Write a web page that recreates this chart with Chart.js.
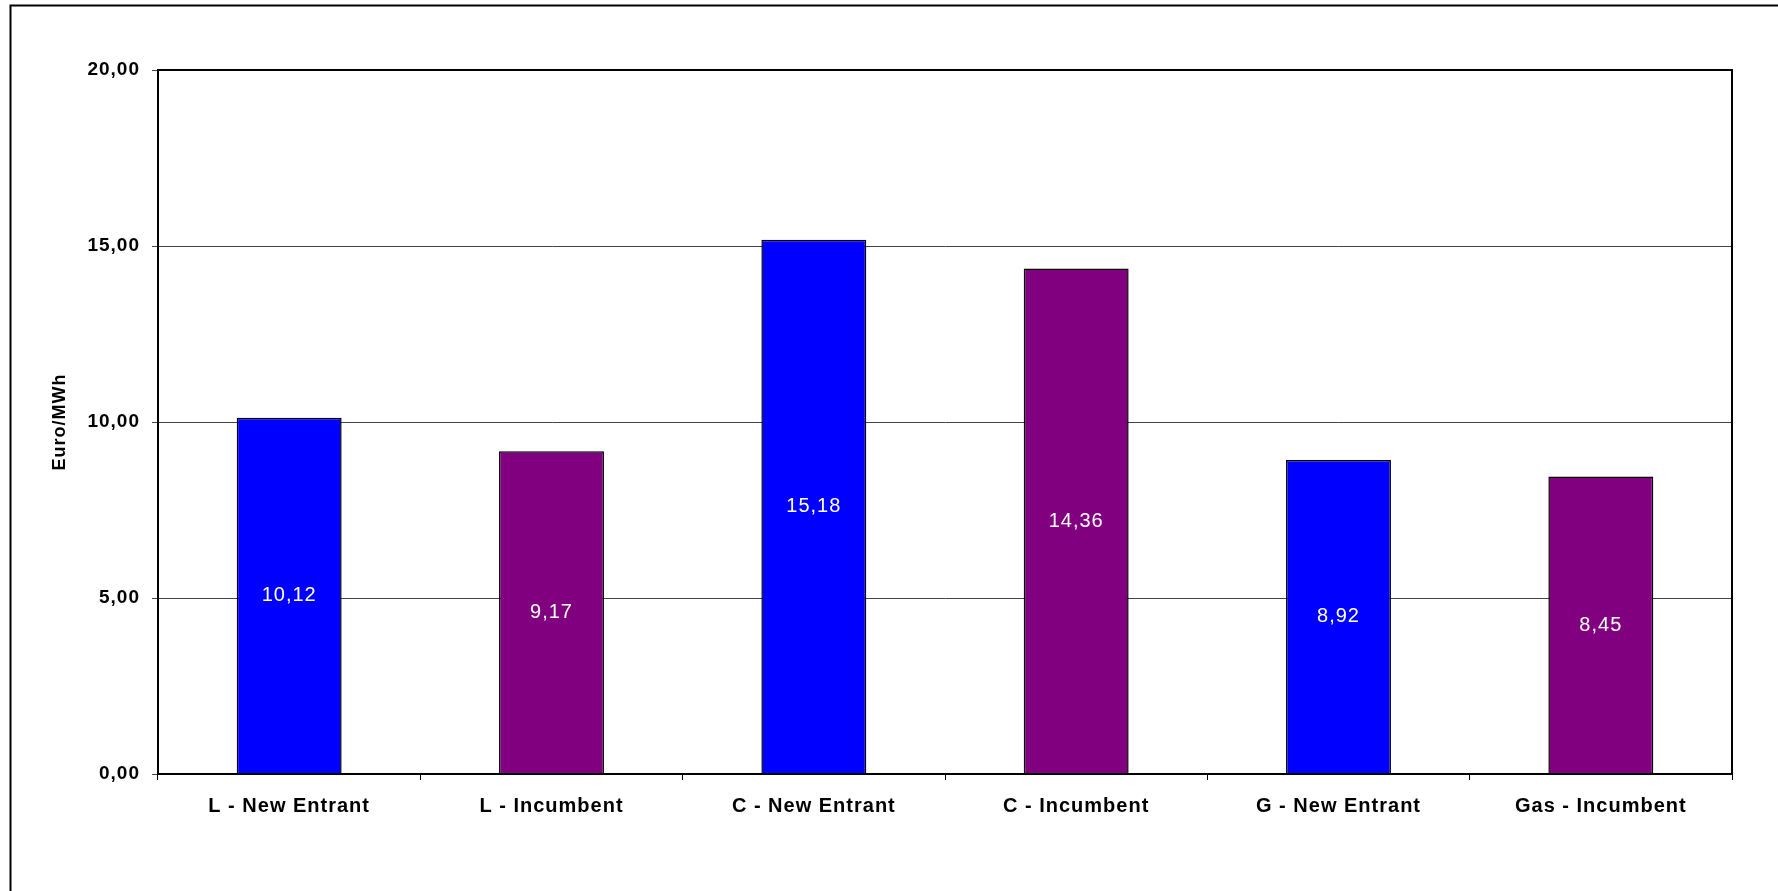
<!DOCTYPE html>
<html>
<head>
<meta charset="utf-8">
<script src="https://cdn.jsdelivr.net/npm/chart.js@4.4.0/dist/chart.umd.min.js"></script>
<style>
  body { margin: 0; background: #fff; }
</style>
</head>
<body>
<canvas id="myChart" width="1778" height="891"></canvas>
<script>
// chart values
let categories = ['L - New Entrant', 'L - Incumbent', 'C - New Entrant', 'C - Incumbent', 'G - New Entrant', 'Gas - Incumbent'];
let values = [10.12, 9.17, 15.18, 14.36, 8.92, 8.45];
let barColors = ['#0000FF', '#800080', '#0000FF', '#800080', '#0000FF', '#800080'];
let yTicks = [0, 5, 10, 15, 20];
let yTitle = 'Euro/MWh';

const fontFamily = '"Liberation Sans", Arial, sans-serif';

function commaNumber(v) {
  return v.toFixed(2).replace('.', ',');
}

// outer frame + plot frame
const frames = {
  id: 'frames',
  beforeDraw(chart) {
    let ctx = chart.ctx;
    ctx.save();
    ctx.fillStyle = '#fff';
    ctx.fillRect(0, 0, chart.width, chart.height);
    ctx.strokeStyle = '#000';
    ctx.lineWidth = 2;
    ctx.strokeRect(10.5, 5.5, 3000, 3000);
    ctx.restore();
    // the original text is a bit more loosely spaced
    ctx.letterSpacing = '1px';
  },
  afterDraw(chart) {
    let a = chart.chartArea;
    let ctx = chart.ctx;
    ctx.save();
    ctx.strokeStyle = '#000';
    ctx.lineWidth = 2;
    ctx.strokeRect(a.left, a.top, a.right - a.left, a.bottom - a.top);
    ctx.restore();
  }
};

// values written in the middle of each bar
const barLabels = {
  id: 'barLabels',
  afterDatasetsDraw(chart) {
    let ctx = chart.ctx;
    let meta = chart.getDatasetMeta(0);
    ctx.save();
    ctx.fillStyle = '#fff';
    ctx.font = '20px ' + fontFamily;
    ctx.textAlign = 'center';
    ctx.textBaseline = 'middle';
    meta.data.forEach((bar, i) => {
      ctx.fillText(commaNumber(values[i]), bar.x, (bar.y + bar.base) / 2);
    });
    ctx.restore();
  }
};

const ctx = document.getElementById('myChart').getContext('2d');

const myChart = new Chart(ctx, {
  type: 'bar',
  data: {
    labels: categories,
    datasets: [{
      data: values,
      backgroundColor: barColors,
      borderColor: '#000',
      borderWidth: 1.5,
      barPercentage: 0.4,
      categoryPercentage: 1
    }]
  },
  options: {
    responsive: false,
    animation: false,
    layout: { padding: { left: 40, top: 70, right: 46, bottom: 0 } },
    plugins: {
      legend: { display: false },
      tooltip: { enabled: false }
    },
    scales: {
      x: {
        grid: { display: true, drawOnChartArea: false, offset: true, tickLength: 6, color: '#000', lineWidth: 1 },
        border: { color: '#000', width: 2 },
        ticks: {
          color: '#000',
          padding: 14,
          maxRotation: 0,
          font: { family: fontFamily, size: 20, weight: 'bold' }
        },
        afterFit(scale) { scale.height = 117; }
      },
      y: {
        min: 0,
        max: 20,
        afterBuildTicks(scale) { scale.ticks = yTicks.map(v => ({ value: v })); },
        grid: { color: '#444', lineWidth: 1, tickLength: 6 },
        border: { color: '#000', width: 2 },
        ticks: {
          color: '#000',
          padding: 12,
          font: { family: fontFamily, size: 19, weight: 'bold' },
          callback: v => commaNumber(v)
        },
        title: {
          display: true,
          text: yTitle,
          color: '#000',
          padding: { top: 9, bottom: 0 },
          font: { family: fontFamily, size: 18, weight: 'bold' }
        },
        afterFit(scale) { scale.width = 118; }
      }
    }
  },
  plugins: [frames, barLabels]
});
</script>
</body>
</html>
